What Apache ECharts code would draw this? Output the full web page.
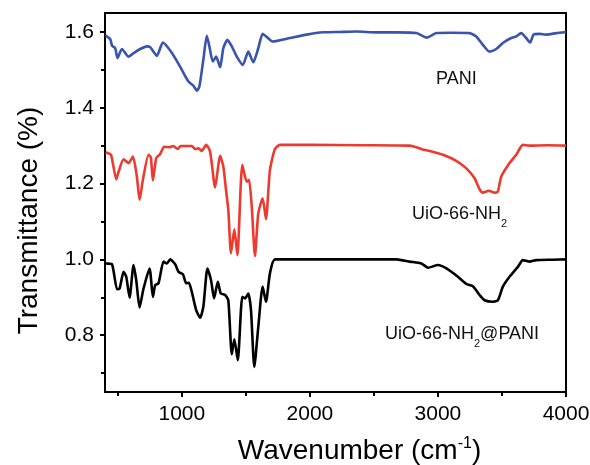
<!DOCTYPE html>
<html><head><meta charset="utf-8">
<script src="https://cdn.jsdelivr.net/npm/echarts@6/dist/echarts.min.js"></script>
<style>html,body{margin:0;padding:0;background:#fff}#c{width:590px;height:465px}</style>
</head><body><div id="c"></div>
<script>
const xTicks = [1000, 2000, 3000, 4000];
const xMinor = [500, 1500, 2500, 3500];
const yTicks = [0.8, 1.0, 1.2, 1.4, 1.6];
const yMinor = [0.7, 0.9, 1.1, 1.3, 1.5];
const seriesNames = ['PANI', 'UiO-66-NH2', 'UiO-66-NH2@PANI'];

const pani = [[405,1.592],[415,1.588],[441,1.581],[455,1.564],[480,1.557],[498,1.531],[532,1.555],[584,1.535],[623,1.544],[675,1.555],[727,1.562],[753,1.560],[805,1.537],[852,1.572],[896,1.557],[948,1.531],[1000,1.500],[1052,1.469],[1091,1.458],[1117,1.445],[1137,1.456],[1168,1.527],[1195,1.590],[1215,1.562],[1242,1.522],[1268,1.535],[1299,1.507],[1324,1.557],[1356,1.579],[1390,1.562],[1429,1.535],[1476,1.513],[1519,1.548],[1558,1.520],[1597,1.557],[1631,1.595],[1663,1.587],[1709,1.575],[1844,1.584],[1974,1.593],[2104,1.599],[2234,1.600],[2364,1.601],[2520,1.599],[2676,1.599],[2832,1.597],[2910,1.585],[2988,1.597],[3100,1.598],[3247,1.597],[3299,1.588],[3351,1.566],[3403,1.548],[3455,1.555],[3507,1.571],[3572,1.584],[3611,1.588],[3650,1.597],[3689,1.584],[3720,1.572],[3746,1.593],[3793,1.595],[3845,1.593],[3923,1.597],[4000,1.600]];

const uio = [[405,1.283],[410,1.282],[447,1.276],[488,1.211],[506,1.231],[545,1.264],[584,1.254],[618,1.271],[649,1.218],[670,1.157],[696,1.210],[740,1.276],[758,1.269],[774,1.208],[800,1.267],[831,1.278],[862,1.297],[909,1.296],[935,1.299],[966,1.291],[992,1.299],[1078,1.299],[1104,1.291],[1130,1.293],[1156,1.286],[1190,1.302],[1221,1.284],[1260,1.190],[1299,1.273],[1324,1.245],[1345,1.183],[1363,1.130],[1384,1.016],[1410,1.079],[1434,1.011],[1472,1.249],[1507,1.205],[1525,1.210],[1546,1.139],[1571,1.009],[1597,1.121],[1631,1.161],[1657,1.106],[1688,1.236],[1727,1.291],[1766,1.302],[2000,1.302],[2400,1.301],[2780,1.300],[2830,1.296],[2880,1.290],[2936,1.286],[3039,1.276],[3143,1.260],[3222,1.240],[3286,1.214],[3325,1.185],[3351,1.176],[3398,1.181],[3442,1.176],[3468,1.179],[3494,1.218],[3559,1.254],[3611,1.276],[3663,1.302],[3715,1.300],[3850,1.301],[4000,1.300]];

const comp = [[405,0.990],[410,0.989],[455,0.987],[494,0.921],[514,0.923],[545,0.967],[566,0.954],[592,0.899],[623,0.985],[644,0.945],[670,0.873],[701,0.923],[748,0.976],[774,0.901],[792,0.932],[818,0.937],[857,0.994],[883,0.989],[909,1.000],[948,0.987],[974,0.967],[1008,0.961],[1034,0.937],[1055,0.938],[1078,0.914],[1112,0.866],[1143,0.846],[1168,0.875],[1200,0.976],[1228,0.945],[1252,0.897],[1281,0.941],[1304,0.910],[1338,0.906],[1363,0.892],[1390,0.750],[1410,0.789],[1437,0.734],[1472,0.901],[1494,0.897],[1519,0.910],[1540,0.866],[1566,0.716],[1597,0.822],[1631,0.928],[1657,0.888],[1688,0.963],[1727,1.000],[2000,1.000],[2400,1.000],[2676,1.000],[2780,0.994],[2871,0.989],[2923,0.978],[3001,0.985],[3066,0.976],[3156,0.954],[3222,0.935],[3273,0.929],[3325,0.906],[3364,0.892],[3429,0.888],[3468,0.892],[3507,0.928],[3559,0.954],[3624,0.980],[3663,0.998],[3715,0.994],[3767,0.998],[3900,0.999],[4000,1.000]];

const chart = echarts.init(document.getElementById('c'), null, {renderer: 'canvas'});
const font = 'Liberation Sans, Arial, sans-serif';
const axisLine = {show: true, lineStyle: {color: '#000', width: 2}};
function line(name, data, color) {
  return {name, type: 'line', data, xAxisIndex: 0, yAxisIndex: 0, showSymbol: false, symbol: 'none',
    lineStyle: {color, width: 2.6}, smooth: 0.2, animation: false};
}
const labRich = {a: {fontFamily: font, fontSize: 18, fill: '#111', lineHeight: 22}, s: {fontFamily: font, fontSize: 11, fill: '#111', lineHeight: 22, verticalAlign: 'bottom', padding: [0,0,-4,0]}};
chart.setOption({
  animation: false,
  grid: {left: 105, right: 24, top: 13, bottom: 73, show: true, borderColor: '#000', borderWidth: 2, backgroundColor: 'transparent', containLabel: false, outerBoundsMode: 'none'},
  xAxis: [
    {type: 'value', min: 400, max: 4000, position: 'bottom',
      name: 'Wavenumber (cm{sup|-1})', nameLocation: 'middle', nameGap: 44,
      nameTextStyle: {fontFamily: font, fontSize: 28, color: '#000', padding: [0,0,0,48], rich: {sup: {fontSize: 16, verticalAlign: 'top', padding: [0,0,14,0], fontFamily: font}}},
      axisLine, splitLine: {show: false},
      axisTick: {show: true, length: 5, lineStyle: {width: 2, color: '#000'}, customValues: xTicks},
      axisLabel: {customValues: xTicks, fontFamily: font, fontSize: 21, color: '#000', margin: 12, formatter: v => String(v)}},
    {type: 'value', min: 400, max: 4000, position: 'bottom', gridIndex: 0,
      axisLine: {show: false}, splitLine: {show: false},
      axisTick: {show: true, length: 4, lineStyle: {width: 2, color: '#000'}, customValues: xMinor},
      axisLabel: {show: false}}
  ],
  yAxis: [
    {type: 'value', min: 0.65, max: 1.65, position: 'left',
      name: 'Transmittance (%)', nameLocation: 'middle', nameGap: 62, nameRotate: 90,
      nameTextStyle: {fontFamily: font, fontSize: 28, color: '#000', padding: [0,36,0,0]},
      axisLine, splitLine: {show: false},
      axisTick: {show: true, length: 5, lineStyle: {width: 2, color: '#000'}, customValues: yTicks},
      axisLabel: {customValues: yTicks, fontFamily: font, fontSize: 21, color: '#000', margin: 11, formatter: v => v.toFixed(1)}},
    {type: 'value', min: 0.65, max: 1.65, position: 'left',
      axisLine: {show: false}, splitLine: {show: false},
      axisTick: {show: true, length: 4, lineStyle: {width: 2, color: '#000'}, customValues: yMinor},
      axisLabel: {show: false}}
  ],
  graphic: [
    {type: 'text', left: 436, top: 70, style: {text: seriesNames[0], fontFamily: font, fontSize: 18, fill: '#111'}},
    {type: 'text', left: 412, top: 205, style: {text: '{a|UiO-66-NH}{s|2}', rich: labRich}},
    {type: 'text', left: 385, top: 325, style: {text: '{a|UiO-66-NH}{s|2}{a|@PANI}', rich: labRich}}
  ],
  series: [
    line(seriesNames[0], pani, '#3953b0'),
    line(seriesNames[1], uio, '#ec3a2e'),
    line(seriesNames[2], comp, '#000')
  ]
});
</script></body></html>
